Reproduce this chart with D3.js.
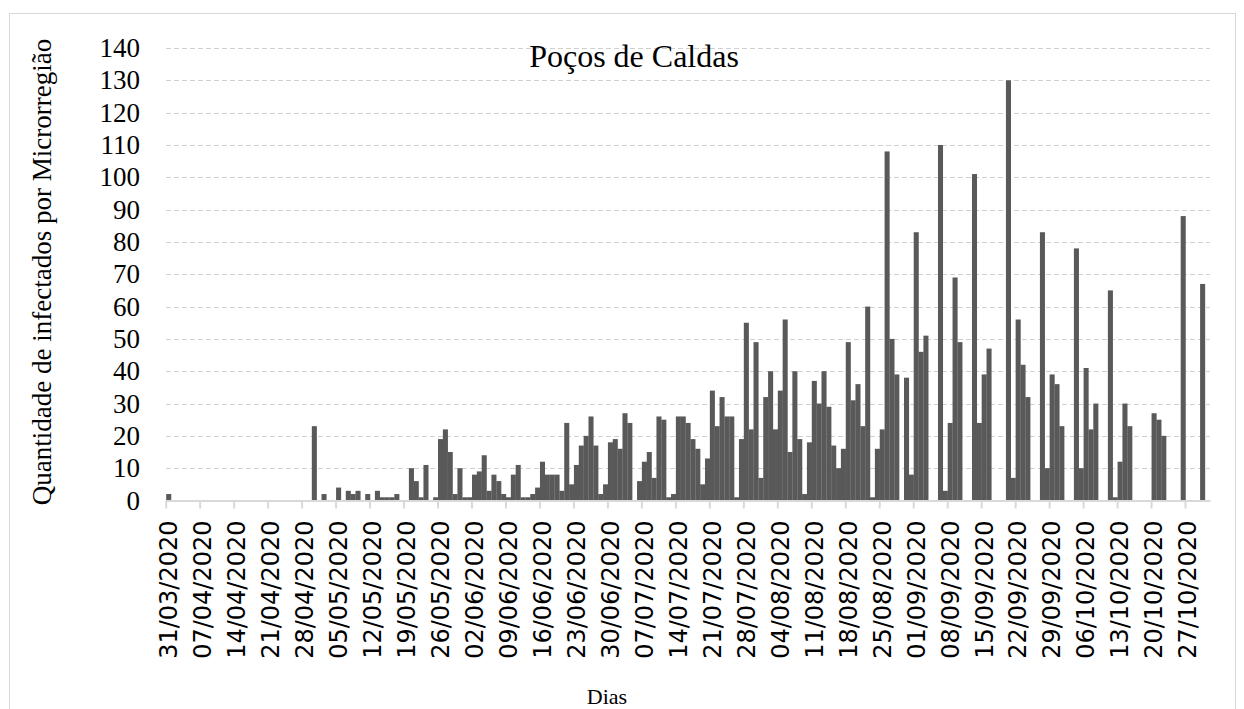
<!DOCTYPE html>
<html>
<head>
<meta charset="utf-8">
<script src="https://cdn.jsdelivr.net/npm/d3@7"></script>
<style>
  body { margin: 0; background: #fff; }
  svg { display: block; }
</style>
</head>
<body>
<div id="chart"></div>
<script>
// daily counts from 31/03/2020 to 31/10/2020 (one per day)
var values = [
  2, 0, 0, 0, 0, 0, 0, 0, 0, 0, 0, 0, 0, 0, 0, 0, 0, 0, 0, 0,
  0, 0, 0, 0, 0, 0, 0, 0, 0, 0, 23, 0, 2, 0, 0, 4, 0, 3, 2, 3,
  0, 2, 0, 3, 1, 1, 1, 2, 0, 0, 10, 6, 1, 11, 0, 1, 19, 22, 15, 2,
  10, 1, 1, 8, 9, 14, 3, 8, 6, 2, 1, 8, 11, 1, 1, 2, 4, 12, 8, 8,
  8, 3, 24, 5, 11, 17, 20, 26, 17, 2, 5, 18, 19, 16, 27, 24, 0, 6, 12, 15,
  7, 26, 25, 1, 2, 26, 26, 24, 19, 16, 5, 13, 34, 23, 32, 26, 26, 1, 19, 55,
  22, 49, 7, 32, 40, 22, 34, 56, 15, 40, 19, 2, 18, 37, 30, 40, 29, 17, 10, 16,
  49, 31, 36, 23, 60, 1, 16, 22, 108, 50, 39, 0, 38, 8, 83, 46, 51, 0, 0, 110,
  3, 24, 69, 49, 0, 0, 101, 24, 39, 47, 0, 0, 0, 130, 7, 56, 42, 32, 0, 0,
  83, 10, 39, 36, 23, 0, 0, 78, 10, 41, 22, 30, 0, 0, 65, 1, 12, 30, 23, 0,
  0, 0, 0, 27, 25, 20, 0, 0, 0, 88, 0, 0, 0, 67, 0
];

var tickLabels = [
  "31/03/2020", "07/04/2020", "14/04/2020", "21/04/2020", "28/04/2020",
  "05/05/2020", "12/05/2020", "19/05/2020", "26/05/2020", "02/06/2020",
  "09/06/2020", "16/06/2020", "23/06/2020", "30/06/2020", "07/07/2020",
  "14/07/2020", "21/07/2020", "28/07/2020", "04/08/2020", "11/08/2020",
  "18/08/2020", "25/08/2020", "01/09/2020", "08/09/2020", "15/09/2020",
  "22/09/2020", "29/09/2020", "06/10/2020", "13/10/2020", "20/10/2020",
  "27/10/2020"
];

var yTicks = [0, 10, 20, 30, 40, 50, 60, 70, 80, 90, 100, 110, 120, 130, 140];

var fmt = d3.timeFormat("%d/%m/%Y");
var days = d3.timeDay.range(new Date(2020, 2, 31), new Date(2020, 9, 31 + 1)).map(fmt);

var width = 1244, height = 709;
var margin = {top: 48, right: 34, bottom: 208, left: 166};

var svg = d3.select("#chart").append("svg")
    .attr("width", width)
    .attr("height", height);

// chart border
svg.append("rect")
    .attr("x", 9.5).attr("y", 13.5)
    .attr("width", 1226).attr("height", 710)
    .attr("fill", "none")
    .attr("stroke", "#d9d9d9");

var x = d3.scaleBand()
    .domain(days)
    .range([margin.left, width - margin.right])
    .paddingInner(0)
    .paddingOuter(0.04);

var y = d3.scaleLinear()
    .domain([0, 140])
    .range([height - margin.bottom - 0.5, margin.top]);

// gridlines
svg.append("g")
  .selectAll("line")
  .data(yTicks.slice(1))
  .enter().append("line")
    .attr("x1", margin.left)
    .attr("x2", width - margin.right)
    .attr("y1", function(d) { return Math.round(y(d)) + 0.5; })
    .attr("y2", function(d) { return Math.round(y(d)) + 0.5; })
    .attr("stroke", "#d0d0d0")
    .attr("stroke-dasharray", "5,3");

// y axis labels
var yAxis = svg.append("g")
    .attr("transform", "translate(" + margin.left + ",0)")
    .call(d3.axisLeft(y).tickValues(yTicks).tickSize(0).tickPadding(26));
yAxis.select(".domain").remove();
yAxis.selectAll("text")
    .attr("font-family", "Liberation Serif, serif")
    .attr("font-size", 27)
    .attr("fill", "#000");

// bars (adjacent, no gap)
svg.append("g")
  .selectAll("rect")
  .data(values)
  .enter().append("rect")
    .attr("x", function(d, i) { return x(days[i]); })
    .attr("y", function(d) { return y(d); })
    .attr("width", x.bandwidth() + 0.2)
    .attr("height", function(d) { return y(0) - y(d); })
    .attr("fill", "#595959");

// x axis
var step = x.step();
var xAxis = svg.append("g")
    .attr("transform", "translate(0," + y(0) + ")")
    .call(d3.axisBottom(x)
      .tickValues(tickLabels)
      .tickSize(8)
      .tickSizeOuter(0));
xAxis.select(".domain")
    .attr("stroke", "#d9d9d9")
    .attr("stroke-width", 2);
xAxis.selectAll(".tick line")
    .attr("x1", -step / 2).attr("x2", -step / 2)
    .attr("stroke", "#d9d9d9")
    .attr("stroke-width", 2);
xAxis.selectAll(".tick text")
    .attr("font-family", "DejaVu Sans, sans-serif")
    .attr("font-size", 24)
    .attr("fill", "#000")
    .attr("text-anchor", "end")
    .attr("transform", "rotate(-90)")
    .attr("x", -20)
    .attr("y", 0)
    .attr("dy", "0.35em");

// titles
svg.append("text")
    .attr("x", 634).attr("y", 67)
    .attr("text-anchor", "middle")
    .attr("font-family", "Liberation Serif, serif")
    .attr("font-size", 32)
    .text("Poços de Caldas");

svg.append("text")
    .attr("transform", "translate(42," + (margin.top + 224) + ") rotate(-90)")
    .attr("text-anchor", "middle")
    .attr("dy", "0.35em")
    .attr("font-family", "Liberation Serif, serif")
    .attr("font-size", 27)
    .text("Quantidade de infectados por Microrregião");

svg.append("text")
    .attr("x", 607).attr("y", 704)
    .attr("text-anchor", "middle")
    .attr("font-family", "Liberation Serif, serif")
    .attr("font-size", 22)
    .text("Dias");
</script>
</body>
</html>
